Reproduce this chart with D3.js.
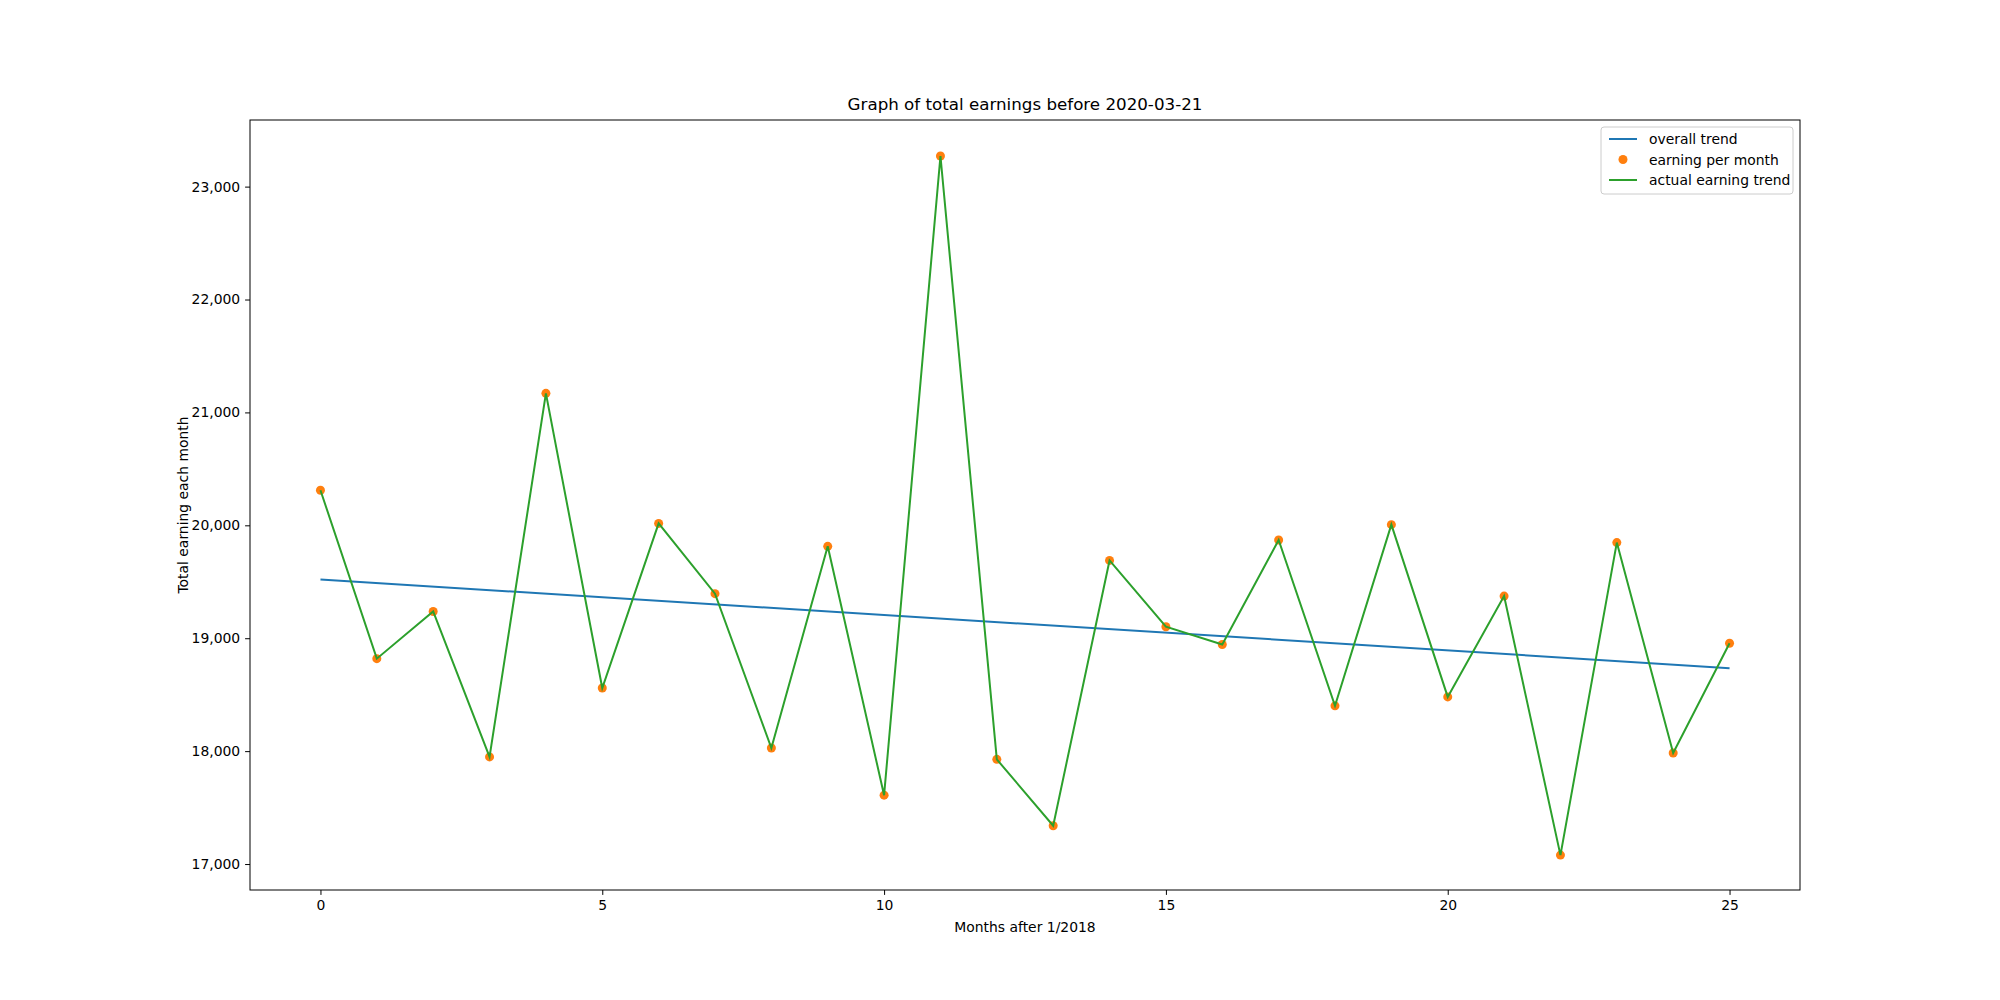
<!DOCTYPE html>
<html><head><meta charset="utf-8">
<script src="https://cdn.jsdelivr.net/npm/d3@7"></script>
<style>body{margin:0;background:#fff}text{font-family:"DejaVu Sans",sans-serif}</style>
</head><body><svg id="c" width="2000" height="1000"></svg>
<script>
const months = d3.range(26);
const earnings = [20311,18819,19237,17949,21169,18559,20017,19395,18028,19814,17610,23271,17927,17339,19689,19102,18944,19870,18401,20006,18480,19373,17079,19847,17983,18955];
const trendStart = 19520, trendEnd = 18735;
const xTicks = [0,5,10,15,20,25];
const yTicks = [17000,18000,19000,20000,21000,22000,23000];

const svg = d3.select("#c");
const L=250,R=1800,T=120,B=890;
const x = d3.scaleLinear().domain([-1.25,26.25]).range([L,R]);
const y = d3.scaleLinear().domain([16770,23590]).range([B,T]);
const trend = [[0,trendStart],[25,trendEnd]];

svg.append("g").attr("transform",`translate(0,${B})`).call(d3.axisBottom(x).tickValues(xTicks).tickSize(4.9).tickPadding(4.9))
  .call(g=>{g.select(".domain").remove();g.selectAll("text").attr("font-size",13.9).attr("fill","#000");});
svg.append("g").attr("transform",`translate(${L},0)`).call(d3.axisLeft(y).tickValues(yTicks).tickSize(4.9).tickPadding(4.9))
  .call(g=>{g.select(".domain").remove();g.selectAll("text").attr("font-size",13.9).attr("fill","#000");});

const line = d3.line().x(d=>x(d[0])).y(d=>y(d[1]));
svg.append("path").attr("d",line(trend)).attr("fill","none").attr("stroke","#1f77b4").attr("stroke-width",2);
svg.append("g").selectAll("circle").data(months).join("circle")
  .attr("cx",d=>x(d)).attr("cy",d=>y(earnings[d])).attr("r",4.5).attr("fill","#ff7f0e");
svg.append("path").attr("d",line(months.map(m=>[m,earnings[m]]))).attr("fill","none").attr("stroke","#2ca02c").attr("stroke-width",2);

svg.append("rect").attr("x",L).attr("y",T).attr("width",R-L).attr("height",B-T).attr("fill","none").attr("stroke","#000").attr("stroke-width",1);

svg.append("text").attr("x",(L+R)/2).attr("y",T-10).attr("text-anchor","middle").attr("font-size",16.7).text("Graph of total earnings before 2020-03-21");
svg.append("text").attr("x",(L+R)/2).attr("y",B+42).attr("text-anchor","middle").attr("font-size",13.9).text("Months after 1/2018");
svg.append("text").attr("transform",`translate(188,${(T+B)/2}) rotate(-90)`).attr("text-anchor","middle").attr("font-size",13.9).text("Total earning each month");

// legend
const lg = svg.append("g").attr("transform","translate(1601,127)");
lg.append("rect").attr("width",192).attr("height",67).attr("fill","#fff").attr("stroke","#ccc").attr("rx",3);
const items=[["overall trend","line","#1f77b4"],["earning per month","dot","#ff7f0e"],["actual earning trend","line","#2ca02c"]];
items.forEach((it,i)=>{
  const cy=12+i*20.5;
  if(it[1]==="line") lg.append("line").attr("x1",8).attr("x2",36).attr("y1",cy).attr("y2",cy).attr("stroke",it[2]).attr("stroke-width",2);
  else lg.append("circle").attr("cx",22).attr("cy",cy).attr("r",4.5).attr("fill",it[2]);
  lg.append("text").attr("x",48).attr("y",cy+5).attr("font-size",13.9).text(it[0]);
});
</script></body></html>
